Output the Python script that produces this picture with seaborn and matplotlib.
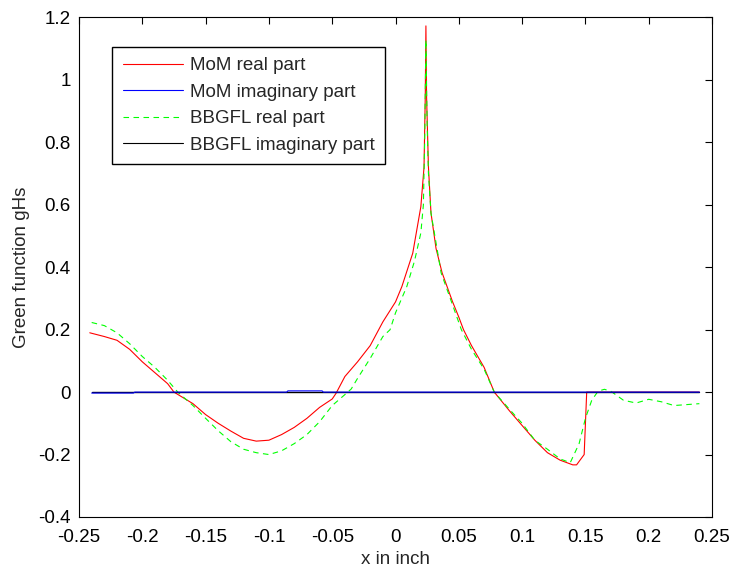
import numpy as np
import matplotlib
matplotlib.use('Agg')
import matplotlib.pyplot as plt
import seaborn as sns

sns.set_style('white')
plt.rcParams['font.family'] = ['Liberation Sans', 'DejaVu Sans']
plt.rcParams['font.size'] = 13.5

# MoM real part
mom_x = [-0.2415, -0.23, -0.22, -0.21, -0.2, -0.19, -0.18, -0.175, -0.16, -0.15,
         -0.14, -0.13, -0.12, -0.11, -0.1, -0.09, -0.08, -0.07, -0.06, -0.05,
         -0.047, -0.04, -0.03, -0.02, -0.01, 0.0, 0.005, 0.0136, 0.02, 0.0225,
         0.0235, 0.024, 0.0245, 0.026, 0.028, 0.032, 0.0368, 0.045, 0.05, 0.0537,
         0.06, 0.07, 0.078, 0.09, 0.1, 0.11, 0.12, 0.13, 0.14, 0.143,
         0.149, 0.151, 0.17, 0.2, 0.24]
mom_re = [0.19, 0.178, 0.166, 0.137, 0.097, 0.062, 0.027, 0.0, -0.037, -0.072,
          -0.10, -0.125, -0.148, -0.157, -0.154, -0.136, -0.113, -0.084, -0.049, -0.022,
          -0.004, 0.05, 0.097, 0.149, 0.225, 0.289, 0.338, 0.445, 0.594, 0.72,
          0.95, 1.173, 0.95, 0.72, 0.574, 0.46, 0.382, 0.29, 0.24, 0.2,
          0.149, 0.079, 0.0, -0.06, -0.107, -0.154, -0.194, -0.218, -0.233, -0.233,
          -0.2, 0.0, 0.0, 0.0, 0.0]

# MoM imaginary part
mom_im_x = [-0.24, -0.207, -0.206, -0.086, -0.085, -0.058, -0.057, 0.24]
mom_im = [-0.003, -0.003, 0.0, 0.0, 0.004, 0.004, 0.0, 0.0]

# BBGFL real part
bb_x = [-0.24, -0.23, -0.22, -0.21, -0.2, -0.19, -0.18, -0.172, -0.16, -0.15,
        -0.14, -0.13, -0.12, -0.11, -0.1, -0.09, -0.08, -0.07, -0.06, -0.05,
        -0.04, -0.035, -0.03, -0.02, -0.01, -0.0043, 0.0, 0.0089, 0.015, 0.02,
        0.022, 0.023, 0.024, 0.025, 0.026, 0.028, 0.036, 0.045, 0.052, 0.06,
        0.07, 0.078, 0.09, 0.1, 0.11, 0.12, 0.13, 0.138, 0.145, 0.15,
        0.155, 0.16, 0.165, 0.17, 0.18, 0.19, 0.2, 0.21, 0.22, 0.23, 0.24]
bb_re = [0.223, 0.213, 0.19, 0.155, 0.114, 0.079, 0.038, 0.0, -0.043, -0.084,
         -0.124, -0.159, -0.183, -0.194, -0.2, -0.188, -0.165, -0.136, -0.095, -0.043,
         -0.008, 0.01, 0.044, 0.108, 0.178, 0.2, 0.254, 0.338, 0.42, 0.51,
         0.6, 0.8, 1.128, 0.85, 0.7, 0.574, 0.382, 0.28, 0.2, 0.137,
         0.073, 0.0, -0.055, -0.10, -0.154, -0.183, -0.214, -0.226, -0.165, -0.084,
         -0.026, 0.003, 0.009, 0.003, -0.026, -0.035, -0.023, -0.031, -0.043, -0.04, -0.037]

# BBGFL imaginary part
bb_im_x = [-0.24, 0.24]
bb_im = [0.0, 0.0]

xticks = [-0.25, -0.2, -0.15, -0.1, -0.05, 0, 0.05, 0.1, 0.15, 0.2, 0.25]
yticks = [-0.4, -0.2, 0, 0.2, 0.4, 0.6, 0.8, 1, 1.2]

fig = plt.figure(figsize=(7.33, 5.69), dpi=100)
ax = fig.add_axes([0.1078, 0.0914, 0.8636, 0.8779])

lw = 0.8
sns.lineplot(x=mom_x, y=mom_re, ax=ax, color='#ff0000', lw=lw, label='MoM real part', sort=False)
sns.lineplot(x=mom_im_x, y=mom_im, ax=ax, color='#0000ff', lw=lw, label='MoM imaginary part',
             sort=False, zorder=3)
sns.lineplot(x=bb_x, y=bb_re, ax=ax, color='#00ff00', lw=lw, label='BBGFL real part', sort=False,
             linestyle='--')
sns.lineplot(x=bb_im_x, y=bb_im, ax=ax, color='black', lw=1.0, label='BBGFL imaginary part',
             sort=False, zorder=2.5)
ax.lines[2].set_dashes((5, 4))

ax.set_xlim(-0.25, 0.25)
ax.set_ylim(-0.4, 1.2)
ax.set_xticks(xticks)
ax.set_xticklabels([f'{t:g}' for t in xticks])
ax.set_yticks(yticks)
ax.set_yticklabels([f'{t:g}' for t in yticks])
ax.tick_params(direction='in', length=5, width=0.8, top=True, right=True,
               labelsize=13.5, colors='black')
ax.tick_params(axis='x', pad=9)
ax.tick_params(axis='y', pad=6)
for s in ax.spines.values():
    s.set_color('black')
    s.set_linewidth(0.8)

ax.set_xlabel('x in inch', fontsize=13.5, labelpad=3)
ax.set_ylabel('Green function gHs', fontsize=13.5, labelpad=6)

leg = ax.legend(loc='upper left', bbox_to_anchor=(0.0526, 0.9415), borderaxespad=0,
                fontsize=13.5, handlelength=3.2, handletextpad=0.4, labelspacing=0.5,
                borderpad=0.55, fancybox=False, framealpha=1, edgecolor='black')
leg.get_frame().set_linewidth(1.0)
for h in leg.get_lines():
    h.set_linewidth(lw)

fig.savefig('out.png', dpi=100)
